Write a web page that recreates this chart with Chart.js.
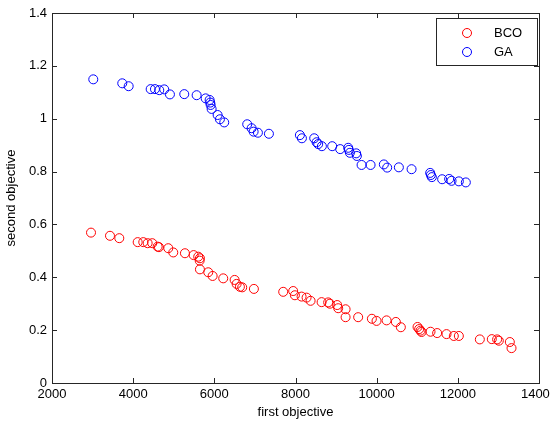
<!DOCTYPE html>
<html>
<head>
<meta charset="utf-8">
<script src="https://cdn.jsdelivr.net/npm/chart.js@4/dist/chart.umd.min.js"></script>
<style>
  html, body { margin: 0; padding: 0; background: #ffffff; }
  canvas { display: block; }
</style>
</head>
<body>
<canvas id="chart" width="550" height="422"></canvas>
<script>
// BCO points (first objective, second objective)
const bcoX = [2961, 3429, 3658, 4111, 4249, 4357, 4470, 4603, 4635, 4865, 4988, 5276, 5490, 5603, 5645, 5638,
  5645, 5850, 5958, 6219, 6500, 6549, 6630, 6687, 6975, 7697, 7943, 7985, 8150, 8273, 8372, 8643, 8805, 8847,
  9027, 9052, 9234, 9234, 9544, 9882, 9997, 10244, 10473, 10596, 11007, 11047, 11081, 11106, 11327, 11490,
  11721, 11901, 12025, 12542, 12837, 12968, 13010, 13281, 13323];
const bcoY = [0.569, 0.557, 0.548, 0.533, 0.533, 0.529, 0.529, 0.516, 0.514, 0.510, 0.494, 0.491, 0.484, 0.478, 0.472, 0.463,
  0.430, 0.419, 0.405, 0.396, 0.390, 0.375, 0.364, 0.362, 0.356, 0.345, 0.348, 0.332, 0.327, 0.323, 0.311, 0.306, 0.305, 0.300,
  0.295, 0.283, 0.279, 0.249, 0.249, 0.243, 0.235, 0.237, 0.231, 0.211, 0.212, 0.204, 0.198, 0.193, 0.194, 0.189,
  0.185, 0.178, 0.178, 0.165, 0.166, 0.165, 0.160, 0.155, 0.132];

// GA points
const gaX = [3017, 3731, 3889, 4431, 4537, 4643, 4766, 4906, 5259, 5564, 5786, 5884, 5899, 5909, 5933, 6081,
  6138, 6244, 6810, 6919, 6968, 7074, 7345, 8108, 8158, 8461, 8520, 8559, 8650, 8904, 9101, 9298, 9315, 9340,
  9495, 9512, 9628, 9850, 10177, 10259, 10547, 10860, 11318, 11335, 11360, 11613, 11786, 11845, 12025, 12197];
const gaY = [1.149, 1.134, 1.123, 1.112, 1.112, 1.108, 1.111, 1.092, 1.093, 1.089, 1.077, 1.071, 1.061, 1.052, 1.037, 1.014,
  0.998, 0.986, 0.979, 0.964, 0.951, 0.947, 0.943, 0.938, 0.926, 0.926, 0.911, 0.904, 0.896, 0.896, 0.885, 0.890, 0.882, 0.871,
  0.869, 0.859, 0.825, 0.825, 0.827, 0.815, 0.816, 0.809, 0.795, 0.787, 0.779, 0.771, 0.772, 0.765, 0.763, 0.759];

const seriesNames = ['BCO', 'GA'];
const xTicks = [2000, 4000, 6000, 8000, 10000, 12000, 14000];
const yTicks = [0, 0.2, 0.4, 0.6, 0.8, 1, 1.2, 1.4];

const FONT = 'Liberation Sans, Arial, sans-serif';
const AXIS_COLOR = '#262626';

function toPoints(xs, ys) {
  return xs.map((x, i) => ({ x: x, y: ys[i] }));
}

// matlab style box with inward ticks
const boxPlugin = {
  id: 'box',
  afterDraw(chart) {
    const { ctx, chartArea: { left, right, top, bottom }, scales: { x, y } } = chart;
    ctx.save();
    ctx.strokeStyle = AXIS_COLOR;
    ctx.lineWidth = 1;
    ctx.strokeRect(Math.round(left) + 0.5, Math.round(top) + 0.5, Math.round(right - left), Math.round(bottom - top));
    ctx.beginPath();
    xTicks.forEach(v => {
      const px = Math.round(x.getPixelForValue(v)) + 0.5;
      ctx.moveTo(px, bottom); ctx.lineTo(px, bottom - 5);
      ctx.moveTo(px, top); ctx.lineTo(px, top + 5);
    });
    yTicks.forEach(v => {
      const py = Math.round(y.getPixelForValue(v)) + 0.5;
      ctx.moveTo(left, py); ctx.lineTo(left + 5, py);
      ctx.moveTo(right, py); ctx.lineTo(right - 5, py);
    });
    ctx.stroke();
    ctx.restore();
  }
};

// legend box in the top right corner
const legendPlugin = {
  id: 'boxLegend',
  afterDraw(chart) {
    const { ctx } = chart;
    const bx = 436.5, by = 18.5, bw = 101, bh = 47;
    ctx.save();
    ctx.fillStyle = '#ffffff';
    ctx.fillRect(bx, by, bw, bh);
    ctx.strokeStyle = AXIS_COLOR;
    ctx.lineWidth = 1;
    ctx.strokeRect(bx, by, bw, bh);
    ctx.font = '13px ' + FONT;
    ctx.textBaseline = 'middle';
    ctx.textAlign = 'left';
    chart.data.datasets.forEach((ds, i) => {
      const cy = 33 + i * 19;
      ctx.beginPath();
      ctx.arc(467, cy, 4.5, 0, Math.PI * 2);
      ctx.strokeStyle = ds.borderColor;
      ctx.stroke();
      ctx.fillStyle = '#000000';
      ctx.fillText(ds.label, 494, cy);
    });
    ctx.restore();
  }
};

new Chart(document.getElementById('chart'), {
  type: 'scatter',
  data: {
    datasets: [
      {
        label: seriesNames[0],
        data: toPoints(bcoX, bcoY),
        borderColor: '#ff0000',
        backgroundColor: 'rgba(0,0,0,0)',
        borderWidth: 1,
        pointRadius: 4.5,
      },
      {
        label: seriesNames[1],
        data: toPoints(gaX, gaY),
        borderColor: '#0000ff',
        backgroundColor: 'rgba(0,0,0,0)',
        borderWidth: 1,
        pointRadius: 4.5,
      }
    ]
  },
  options: {
    responsive: false,
    animation: false,
    layout: { padding: { top: 13, right: 11, left: 0, bottom: 0 } },
    scales: {
      x: {
        type: 'linear',
        min: 2000,
        max: 14000,
        afterBuildTicks: (scale) => { scale.ticks = xTicks.map(v => ({ value: v })); },
        afterFit: (scale) => { scale.height = 39; scale.paddingLeft = 0; scale.paddingRight = 0; },
        grid: { display: false, drawTicks: false },
        border: { display: false },
        ticks: {
          color: '#000000',
          padding: 4,
          maxRotation: 0,
          autoSkip: false,
          font: { family: FONT, size: 13 },
          callback: (v) => String(v)
        },
        title: {
          display: true,
          text: 'first objective',
          color: '#000000',
          padding: { top: 0, bottom: 2 },
          font: { family: FONT, size: 13 }
        }
      },
      y: {
        type: 'linear',
        min: 0,
        max: 1.4,
        afterBuildTicks: (scale) => { scale.ticks = yTicks.map(v => ({ value: v })); },
        afterFit: (scale) => { scale.width = 52; },
        grid: { display: false, drawTicks: false },
        border: { display: false },
        ticks: {
          color: '#000000',
          padding: 5,
          autoSkip: false,
          font: { family: FONT, size: 13 },
          callback: (v) => String(+v.toFixed(1))
        },
        title: {
          display: true,
          text: 'second objective',
          color: '#000000',
          padding: { top: 4, bottom: 0 },
          font: { family: FONT, size: 13 }
        }
      }
    },
    plugins: {
      legend: { display: false },
      tooltip: { enabled: false }
    }
  },
  plugins: [boxPlugin, legendPlugin]
});
</script>
</body>
</html>
